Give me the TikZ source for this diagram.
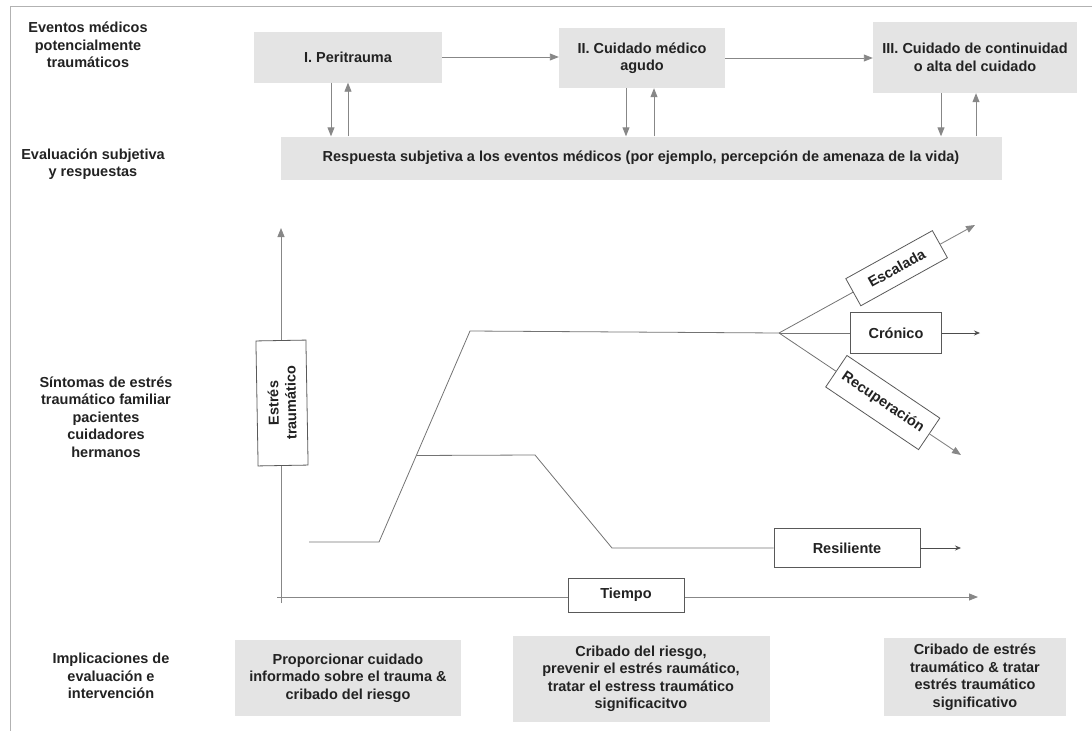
\documentclass[tikz,border=0pt]{standalone}
\usepackage{fontspec}
\setmainfont{Liberation Sans}
\usetikzlibrary{calc,positioning,arrows.meta}
\definecolor{boxgray}{RGB}{228,228,228}
\definecolor{linegray}{RGB}{135,135,135}
\definecolor{textdark}{RGB}{34,34,34}
\tikzset{
  lbl/.style={align=center, text=textdark, font=\fontsize{14.5}{17.5}\selectfont\bfseries},
  graybox/.style={lbl, fill=boxgray, inner sep=4pt},
  whitebox/.style={lbl, fill=white, draw=black!65, line width=0.8pt, inner sep=2pt},
  garrow/.style={draw=linegray, line width=0.9pt, -{Triangle[length=9pt,width=7pt]}},
  darrow/.style={draw=black!70, line width=0.8pt, -{Stealth[length=6pt,width=5pt]}},
  curve/.style={draw=black!55, line width=0.8pt},
}

\begin{document}
\begin{tikzpicture}[x=1pt,y=-1pt]
    \useasboundingbox (0,0) rectangle (1092,731);
    \draw[black!30, line width=1pt] (1092,6) -- (10,6) -- (10,731);

    % row labels
    \node[lbl] (evt) at (88,45) {Eventos médicos\\potencialmente\\traumáticos};
    \node[lbl] (eval) at (93,164) {Evaluación subjetiva\\y respuestas};
    \node[lbl] (sint) at (106,417) {Síntomas de estrés\\traumático familiar\\pacientes\\cuidadores\\hermanos};
    \node[lbl] (impl) at (111,676) {Implicaciones de\\evaluación e\\intervención};

    % phases
    \node[graybox, minimum width=188, minimum height=51] (peri) at (348,57) {I. Peritrauma};
    \node[graybox, minimum width=166, minimum height=60] (agudo) at (642,58) {II. Cuidado médico\\agudo};
    \node[graybox, minimum width=204, minimum height=71] (cont) at (975,57.5) {III. Cuidado de continuidad\\o alta del cuidado};
    \node[graybox, minimum width=721, minimum height=43] (resp) at (641,158)
      {Respuesta subjetiva a los eventos médicos (por ejemplo, percepción de amenaza de la vida)};

    \draw[garrow] (peri.east) -- (peri.east -| agudo.west);
    \draw[garrow] (agudo.east) -- (agudo.east -| cont.west);
    \foreach \dn/\up/\b in {331/348/peri, 626/654/agudo, 941/976/cont} {
      \coordinate (dn) at (\dn,0);
      \coordinate (up) at (\up,0);
      \draw[garrow] (dn |- \b.south) -- (dn |- resp.north);
      \draw[garrow] (up |- resp.north) -- (up |- \b.south);
    }

    % axes
    \coordinate (yorig) at (281,603);
    \coordinate (ytip) at (281,228);
    \coordinate (xorig) at (277,597);
    \coordinate (xtip) at (978,597);
    \draw[garrow] (yorig) -- (ytip);
    \draw[garrow] (xorig) -- (xtip);
    \node[whitebox, rotate=91, minimum width=125, minimum height=50] (stress) at (282,403) {Estrés\\traumático};
    \node[whitebox, minimum width=116, minimum height=34] (tiempo) at (626,595) {Tiempo};

    % trajectories
    \coordinate (c0) at (309,542);
    \coordinate (c1) at (379,542);
    \coordinate (c2) at (470,331);
    \coordinate (fork) at (779,333);
    \coordinate (esctip) at (975,225);
    \coordinate (crotip) at (980,333);
    \coordinate (rectip) at (961,455);
    \draw[curve] (c0) -- (c1) -- (c2) -- (fork);

    \node[whitebox, rotate=29, minimum width=99, minimum height=31] (esc) at ($(fork)!0.6!(esctip)$) {Escalada};
    \node[whitebox, minimum width=91, minimum height=41] (cro) at (896,333) {Crónico};
    \node[whitebox, rotate=-34, minimum width=112, minimum height=38] (rec) at ($(fork)!0.57!(rectip)$) {Recuperación};
    \draw[curve] (fork) -- (esc);
    \draw[garrow] (esc) -- (esctip);
    \draw[curve] (fork) -- (cro);
    \draw[darrow] (cro) -- (crotip);
    \draw[curve] (fork) -- (rec);
    \draw[garrow] (rec) -- (rectip);

    \coordinate (r0) at ($(c1)!0.41!(c2)$);
    \coordinate (r1) at (535,455);
    \coordinate (r2) at (612,548);
    \coordinate (restip) at (961,548);
    \node[whitebox, minimum width=146, minimum height=39] (res) at (847,548) {Resiliente};
    \draw[curve] (r0) -- (r1) -- (r2) -- (res);
    \draw[darrow] (res) -- (restip);

    % implications
    \node[graybox, minimum width=226, minimum height=76] (imp1) at (348,678)
      {Proporcionar cuidado\\informado sobre el trauma \&\\cribado del riesgo};
    \node[graybox, minimum width=257, minimum height=86] (imp2) at (641,679)
      {Cribado del riesgo,\\prevenir el estrés raumático,\\tratar el estress traumático\\significacitvo};
    \node[graybox, minimum width=182, minimum height=78] (imp3) at (975,677)
      {Cribado de estrés\\traumático \& tratar\\estrés traumático\\significativo};
\end{tikzpicture}
\end{document}
